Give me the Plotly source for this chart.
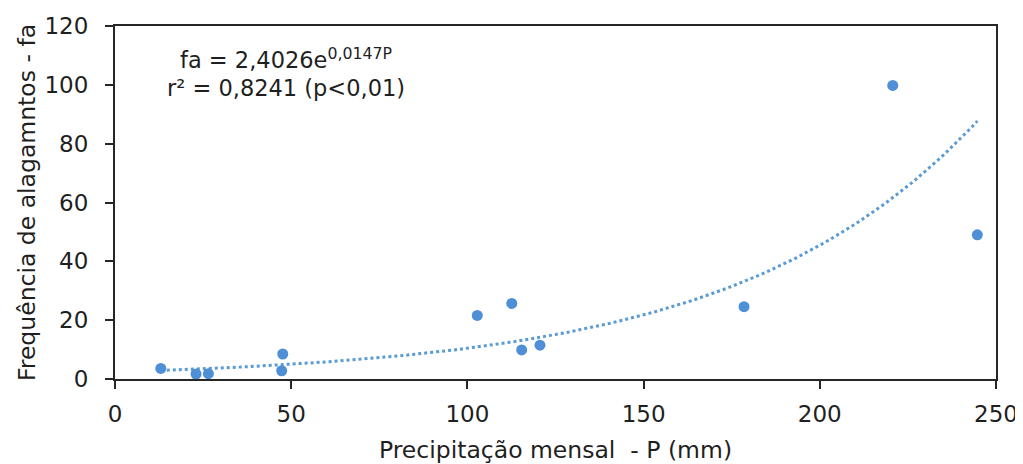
import numpy as np
import plotly.graph_objects as go

# Data
precip_mm = [13, 23, 26.5, 47.6, 47.3, 102.8, 112.6, 115.4, 120.6, 178.5, 220.7, 244.7]
freq_fa = [3.6, 1.7, 1.8, 8.5, 2.8, 21.6, 25.7, 9.9, 11.5, 24.6, 99.8, 49]

# Trendline coefficients as printed on the chart: fa = a * e^(b*P)
coef_a = 2.4026
coef_b = 0.0147

x_ticks = [0, 50, 100, 150, 200, 250]
y_ticks = [0, 20, 40, 60, 80, 100, 120]

blue = "#4f8fd6"
axis_col = "#262626"
text_col = "#1f1f1f"
font_family = "DejaVu Sans, Arial, sans-serif"
tick_fs = 23
title_fs = 23.5
ann_fs = 22.5

trend_x = np.linspace(min(precip_mm), max(precip_mm), 200)
trend_y = coef_a * np.exp(coef_b * trend_x)

fig = go.Figure()
fig.add_trace(go.Scatter(
    x=trend_x, y=trend_y, mode="lines",
    line=dict(color="#5b9bd5", width=3, dash="dot"),
    hoverinfo="skip", showlegend=False,
))
fig.add_trace(go.Scatter(
    x=precip_mm, y=freq_fa, mode="markers",
    marker=dict(color=blue, size=11),
    showlegend=False,
))

fig.add_annotation(
    x=48.5, y=109, xref="x", yref="y",
    text="fa = 2,4026e<sup>0,0147P</sup>",
    showarrow=False, font=dict(size=ann_fs, color=text_col, family=font_family),
)
fig.add_annotation(
    x=48.5, y=98.8, xref="x", yref="y",
    text="r² = 0,8241 (p<0,01)",
    showarrow=False, font=dict(size=ann_fs, color=text_col, family=font_family),
)

fig.update_layout(
    width=1015, height=456,
    margin=dict(l=107, r=27, t=18, b=85, autoexpand=False),
    paper_bgcolor="white", plot_bgcolor="white",
    font=dict(family=font_family, size=tick_fs, color=text_col),
    xaxis=dict(
        range=[0, 250], tickvals=x_ticks, showgrid=False, zeroline=False,
        showline=True, linecolor=axis_col, linewidth=2, mirror=True,
        ticks="outside", ticklen=8, tickwidth=2, tickcolor=axis_col,
        tickfont=dict(size=tick_fs, color=text_col), ticklabelstandoff=5, automargin=False,
        title=dict(text="Precipitação mensal  - P (mm)", font=dict(size=title_fs, color=text_col), standoff=18),
    ),
    yaxis=dict(
        range=[0, 120], tickvals=y_ticks, showgrid=False, zeroline=False,
        showline=True, linecolor=axis_col, linewidth=2, mirror=True,
        ticks="outside", ticklen=8, tickwidth=2, tickcolor=axis_col,
        tickfont=dict(size=tick_fs, color=text_col), ticklabelstandoff=12, automargin=False,
        title=dict(text="Frequência de alagamntos - fa", font=dict(size=title_fs, color=text_col), standoff=2),
    ),
)

fig.write_html("out.html")
